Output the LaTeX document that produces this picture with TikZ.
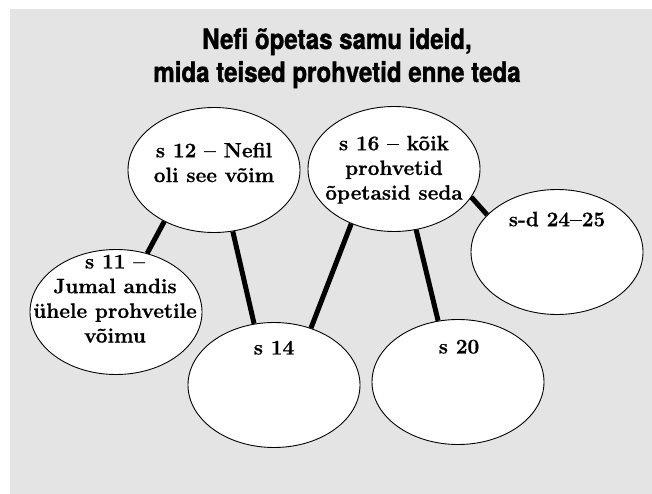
\documentclass[tikz,border=0pt]{standalone}
\usepackage{fontspec}
\usetikzlibrary{shapes.geometric}
\newfontfamily\titlefont[FakeStretch=0.86,FakeBold=1.2]{TeX Gyre Heros}
\newfontfamily\bodyfont[BoldFeatures={FakeBold=0.8}]{Latin Modern Roman}
\definecolor{bgc}{RGB}{228,228,228}
\tikzset{
  bubble/.style={ellipse, draw=black, line width=0.9pt, fill=white, minimum width=172pt, minimum height=125pt, inner sep=0pt},
  lbl/.style={anchor=north, align=center, inner sep=0pt, font=\bodyfont\fontsize{20.8}{24.7}\selectfont\bfseries},
  link/.style={line width=5pt, black},
  ttl/.style={anchor=base, inner sep=0pt, font=\titlefont\fontsize{28}{33}\selectfont\bfseries}
}
\begin{document}
\begin{tikzpicture}[x=1pt,y=-1pt]
\useasboundingbox (0,0) rectangle (652,494);
\fill[bgc] (10,9) rectangle (652,494);
\node[ttl] (t1) at (337,49) {Nefi õpetas samu ideid,};
\node[ttl] (t2) at (337,82) {mida teised prohvetid enne teda};
\node[bubble] (e12) at (214,170) {};
\node[bubble] (e16) at (394,169) {};
\node[bubble] (e11) at (116,312) {};
\node[bubble] (e14) at (274,385) {};
\node[bubble] (e20) at (458,382) {};
\node[bubble] (e25) at (557,252) {};
\draw[link] (e12.226) -- (e11.62);
\draw[link] (e12.287) -- (e14.108);
\draw[link] (e16.232) -- (e14.57);
\draw[link] (e16.290) -- (e20.108);
\draw[link] (e16.340) -- (e25.152);
\node[lbl] (l12) at (214,142.6) {s 12 – Nefil\\oli see võim};
\node[lbl] (l16) at (394,135.6) {s 16 – kõik\\prohvetid\\õpetasid seda};
\node[lbl] (l11) at (115,254.6) {s 11 –\\Jumal andis\\ühele prohvetile\\võimu};
\node[lbl] (l14) at (274,340.6) {s 14};
\node[lbl] (l20) at (459,339.6) {s 20};
\node[lbl] (l25) at (557,211.6) {s-d 24–25};
\end{tikzpicture}
\end{document}
